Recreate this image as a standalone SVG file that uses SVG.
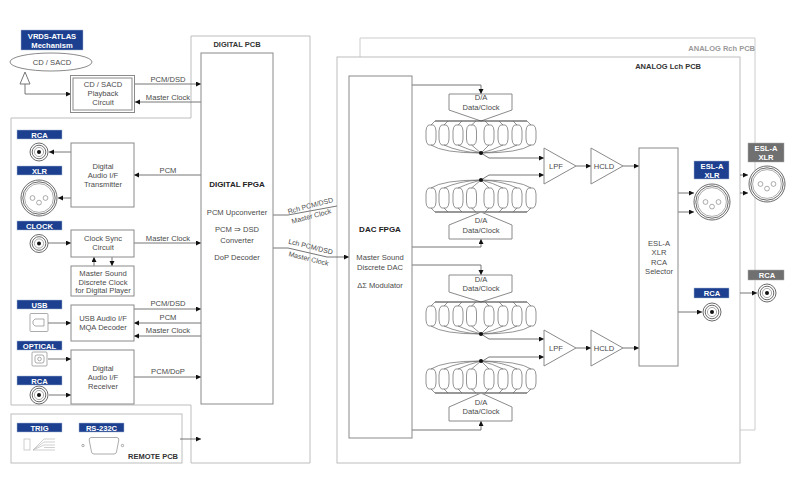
<svg xmlns="http://www.w3.org/2000/svg" width="800" height="480" viewBox="0 0 800 480">
<style>
text{font-family:"Liberation Sans",Arial,sans-serif;font-size:7.6px;fill:#4a4a4a;text-anchor:middle}
.b{font-weight:bold;fill:#222;font-size:8px}
.t{font-weight:bold;fill:#333;font-size:7.5px}
.l{font-weight:bold;fill:#fff;font-size:7.6px}
.s{font-size:7px}
.pcb{fill:#fff;stroke:#bdbdbd;stroke-width:1}
.box{fill:#fff;stroke:#8a8a8a;stroke-width:1}
.w{fill:none;stroke:#666;stroke-width:.9}
.a{fill:none;stroke:#666;stroke-width:.9;marker-end:url(#ah)}
.navy{fill:#1c3f8f;stroke:#a9b6d3;stroke-width:.5}
.grey{fill:#707070;stroke:#aaa;stroke-width:.5}
.c{fill:#fff;stroke:#444;stroke-width:.8}
.g{fill:#fff;stroke:#888;stroke-width:.7}
.o{fill:none;stroke:#666;stroke-width:.7}
</style>
<defs>
<marker id="ah" markerUnits="userSpaceOnUse" markerWidth="6" markerHeight="6" refX="5" refY="2.5" orient="auto"><path d="M0 0L5 2.5L0 5Z" fill="#111"/></marker>
<g id="rca"><circle r="9" class="c"/><circle r="6.8" class="c"/><circle r="4.6" class="g"/><circle r="2" fill="#111"/></g>
<g id="xlr"><circle r="18" class="c"/><circle r="16.2" class="c"/><circle r="14.4" class="g"/><circle cx="-6.5" r="2.4" class="g"/><circle cx="6.5" r="2.4" class="g"/><circle cy="4.6" r="2.4" class="g"/></g>
<path id="cap" d="M-2.500 4H2.500Q5 6 5 10V18Q5 22 2.500 24H-2.500Q-5 22 -5 18V10Q-5 6 -2.500 4Z" class="o"/>
<g id="osc">
<path d="M-46 0H46" fill="none" stroke="#333" stroke-width="1.2"/>
<use href="#cap" x="-50"/><use href="#cap" x="-37"/><use href="#cap" x="-23"/><use href="#cap" x="-9.500"/><use href="#cap" x="8"/><use href="#cap" x="22"/><use href="#cap" x="36"/><use href="#cap" x="50"/>
<path class="o" d="M-50 4L-46 0M-37 4L-33 0M-23 4L-19 0M-9.500 4L-5 0M8 4L4 0M22 4L18 0M36 4L32 0M50 4L46 0"/>
<path class="o" d="M-50 24Q-38 32 0 32Q38 32 50 24M-37 24Q-22 31 0 32Q22 31 36 24M-23 24Q-12 29 0 32Q12 29 22 24M-9.500 24L0 32L8 24"/>
<circle cy="32" r="2" fill="#111"/>
</g>
</defs>
<rect width="800" height="480" fill="#fff"/>

<g id="analog-rch-pcb"><path class="pcb" d="M360 57V38H755V430H740" style="stroke:#ccc"/><text x="755" y="51" class="t" style="text-anchor:end;fill:#999">ANALOG Rch PCB</text></g>
<g id="analog-lch-pcb"><rect class="pcb" x="337" y="57" width="403" height="406"/><text x="701" y="69" class="t" style="text-anchor:end">ANALOG Lch PCB</text></g>
<g id="digital-pcb"><path class="pcb" d="M191 118V36H310V463H191V405H11V118Z"/><text x="237" y="47" class="t">DIGITAL PCB</text></g>
<g id="remote-pcb"><rect class="pcb" x="11" y="414" width="171" height="49"/><text x="153" y="459" class="t">REMOTE PCB</text></g>

<g id="connectors">
<path class="a" d="M135 84H201"/>
<path class="a" d="M201 102H135"/>
<path class="a" d="M25 84V94H71"/>
<path class="a" d="M71 152H49"/>
<path class="a" d="M201 175H134"/>
<path class="a" d="M71 198H58"/>
<path class="a" d="M48 243H71"/>
<path class="a" d="M134 243H201"/>
<path class="a" d="M94 266V257"/>
<path class="a" d="M112 257V266"/>
<path class="a" d="M134 309H201"/>
<path class="a" d="M201 323H134"/>
<path class="a" d="M201 336H134"/>
<path class="a" d="M48 323H71"/>
<path class="a" d="M48 359H71"/>
<path class="a" d="M49 395H71"/>
<path class="a" d="M134 377H201"/>
<path class="a" d="M180 439H201"/>
<path class="w" d="M273 215H288L337 206"/>
<path class="a" d="M273 248H288L327 257H349"/>
<path class="a" d="M412 85H481V94"/>
<path class="a" d="M412 247H481V239"/>
<path class="a" d="M412 265H481V275"/>
<path class="a" d="M412 430H481V421"/>
<path class="a" d="M481 153L489 158H544"/>
<path class="a" d="M481 180L489 175H544"/>
<path class="a" d="M481 334L489 339H544"/>
<path class="a" d="M481 362L489 357H544"/>
<path class="a" d="M576 166H591"/>
<path class="a" d="M576 348H591"/>
<path class="a" d="M623 166H639"/>
<path class="a" d="M623 348H639"/>
<path class="a" d="M678 193H694"/>
<path class="a" d="M678 212H694"/>
<path class="a" d="M678 312H702"/>
<path class="a" d="M740 175H748"/>
<path class="a" d="M740 193H748"/>
<path class="a" d="M740 293H757"/>
</g>

<g id="connector-labels">
<text x="168" y="81.500">PCM/DSD</text>
<text x="168" y="99.500">Master Clock</text>
<text x="168" y="172.500">PCM</text>
<text x="168" y="240.500">Master Clock</text>
<text x="168" y="305.500">PCM/DSD</text>
<text x="168" y="319.500">PCM</text>
<text x="168" y="333">Master Clock</text>
<text x="168" y="374">PCM/DoP</text>
<text class="s" transform="translate(311 208) rotate(-15)">Rch PCM/DSD</text>
<text class="s" transform="translate(312 218.500) rotate(-15)">Master Clock</text>
<text class="s" transform="translate(310 249) rotate(14)">Lch PCM/DSD</text>
<text class="s" transform="translate(308 261) rotate(14)">Master Clock</text>
</g>

<g id="vrds-label"><rect class="navy" x="21" y="30" width="62" height="20"/><text class="l" x="52" y="39">VRDS-ATLAS</text><text class="l" x="52" y="47.500">Mechanism</text></g>
<g id="cd-sacd"><ellipse class="box" cx="51" cy="62" rx="41" ry="9"/><text x="52" y="65">CD / SACD</text><path d="M25 72L20 84H30Z" fill="#fff" stroke="#777"/></g>
<g id="playback"><rect class="box" x="70.500" y="75.500" width="64" height="37"/><rect class="box" x="73" y="78" width="59" height="32"/><text x="103" y="87">CD / SACD</text><text x="103" y="96">Playback</text><text x="103" y="105">Circuit</text></g>

<g id="digital-fpga"><rect class="box" x="201" y="53" width="72" height="351"/><text x="237" y="187" class="b">DIGITAL FPGA</text><text x="237" y="215">PCM Upconverter</text><text x="237" y="232">PCM ⇒ DSD</text><text x="237" y="243">Converter</text><text x="237" y="260">DoP Decoder</text></g>

<g id="rca-out"><rect class="navy" x="17" y="130" width="45" height="9"/><text class="l" x="39.500" y="137.500">RCA</text><use href="#rca" x="39" y="152"/></g>
<g id="xlr-out"><rect class="navy" x="17" y="166" width="45" height="9"/><text class="l" x="39.500" y="173.500">XLR</text><use href="#xlr" x="39" y="198"/></g>
<g id="transmitter"><rect class="box" x="71" y="143" width="63" height="64"/><text x="103" y="169">Digital</text><text x="103" y="178">Audio I/F</text><text x="103" y="187">Transmitter</text></g>
<g id="clock-in"><rect class="navy" x="17" y="221" width="45" height="9"/><text class="l" x="39.500" y="228.500">CLOCK</text><use href="#rca" x="39" y="243.500"/></g>
<g id="clock-sync"><rect class="box" x="71" y="230" width="63" height="27"/><text x="103" y="241">Clock Sync</text><text x="103" y="250">Circuit</text></g>
<g id="master-clock"><rect class="box" x="71" y="266" width="63" height="30"/><text x="103" y="276">Master Sound</text><text x="103" y="285">Discrete Clock</text><text x="103" y="293">for Digital Player</text></g>
<g id="usb-in"><rect class="navy" x="17" y="300" width="45" height="9"/><text class="l" x="39.500" y="307.500">USB</text><rect class="g" x="30" y="313.500" width="18" height="18" rx="1"/><path class="g" d="M33 321L35 319H44V326H35L33 324Z"/></g>
<g id="usb-dec"><rect class="box" x="71" y="305" width="63" height="36"/><text x="103" y="321">USB Audio I/F</text><text x="103" y="330">MQA Decoder</text></g>
<g id="optical-in"><rect class="navy" x="17" y="341" width="45" height="9"/><text class="l" x="39.500" y="348.500">OPTICAL</text><rect class="g" x="32" y="352" width="15" height="14" rx="1"/><rect class="g" x="35" y="355" width="9" height="8" rx="2"/><circle cx="39.500" cy="359" r="1.800" class="g"/></g>
<g id="rca-in"><rect class="navy" x="17" y="376" width="45" height="9"/><text class="l" x="39.500" y="383.500">RCA</text><use href="#rca" x="39" y="395"/></g>
<g id="receiver"><rect class="box" x="71" y="350" width="63" height="54"/><text x="103" y="371">Digital</text><text x="103" y="380">Audio I/F</text><text x="103" y="389">Receiver</text></g>
<g id="trig"><rect class="navy" x="17" y="423" width="45" height="9"/><text class="l" x="39.500" y="430.500">TRIG</text><rect x="24" y="439" width="6" height="11" fill="#fff" stroke="#bbb" stroke-width=".7"/><path d="M33 450L44 439H55M33 450L44 442H55M33 450L44 445H55M33 450H55M44 447.500H55" fill="none" stroke="#bbb" stroke-width=".7"/></g>
<g id="rs232"><rect class="navy" x="79" y="423" width="45" height="9"/><text class="l" x="101.500" y="430.500">RS-232C</text><path class="g" d="M91 437.500H117Q119 437.500 118.800 440L116.500 452Q116 454 114 454H94Q92 454 91.500 452L89.200 440Q89 437.500 91 437.500Z"/><circle cx="83" cy="445.500" r="1.200" class="g"/><circle cx="122.500" cy="445.500" r="1.200" class="g"/></g>

<g id="dac-fpga"><rect class="box" x="349" y="76" width="63" height="362"/><text x="380" y="232" class="b">DAC FPGA</text><text x="380" y="260">Master Sound</text><text x="380" y="270">Discrete DAC</text><text x="380" y="288">ΔΣ Modulator</text></g>

<g id="da1"><path class="box" d="M449 94H512V110L481 121L449 110Z"/><text x="481" y="100">D/A</text><text x="481" y="110">Data/Clock</text></g>
<g id="osc1"><use href="#osc" transform="translate(481 121)"/></g>
<g id="osc2"><use href="#osc" transform="translate(481 212) scale(1 -1)"/></g>
<g id="da2"><path class="box" d="M481 212L512 225V239H449V225Z"/><text x="481" y="223">D/A</text><text x="481" y="233">Data/Clock</text></g>
<g id="da3"><path class="box" d="M449 275H512V292L481 302L449 292Z"/><text x="481" y="282">D/A</text><text x="481" y="291">Data/Clock</text></g>
<g id="osc3"><use href="#osc" transform="translate(481 302)"/></g>
<g id="osc4"><use href="#osc" transform="translate(481 393) scale(1 -1)"/></g>
<g id="da4"><path class="box" d="M481 393L512 407V421H449V407Z"/><text x="481" y="405">D/A</text><text x="481" y="414">Data/Clock</text></g>

<g id="lpf1"><path class="box" d="M544 148V184L576 166Z"/><text x="556" y="169">LPF</text></g>
<g id="hcld1"><path class="box" d="M591 148V184L623 166Z"/><text x="604" y="169">HCLD</text></g>
<g id="lpf2"><path class="box" d="M544 330V366L576 348Z"/><text x="556" y="351">LPF</text></g>
<g id="hcld2"><path class="box" d="M591 330V366L623 348Z"/><text x="604" y="351">HCLD</text></g>
<g id="selector"><rect class="box" x="639" y="148" width="39" height="218"/><text x="659" y="246">ESL-A</text><text x="659" y="255">XLR</text><text x="659" y="265">RCA</text><text x="659" y="274">Selector</text></g>

<g id="esl-lch"><rect class="navy" x="694" y="161" width="35" height="18"/><text class="l" x="712" y="169">ESL-A</text><text class="l" x="712" y="177.500">XLR</text><use href="#xlr" x="712" y="202"/></g>
<g id="esl-rch"><rect class="grey" x="748" y="143" width="36" height="19"/><text class="l" x="766" y="151">ESL-A</text><text class="l" x="766" y="160">XLR</text><use href="#xlr" x="767" y="184"/></g>
<g id="rca-lch"><rect class="navy" x="694" y="288" width="35" height="10"/><text class="l" x="712" y="296">RCA</text><use href="#rca" x="712" y="312"/></g>
<g id="rca-rch"><rect class="grey" x="748" y="270" width="36" height="10"/><text class="l" x="767" y="278">RCA</text><use href="#rca" x="767" y="293"/></g>
</svg>
